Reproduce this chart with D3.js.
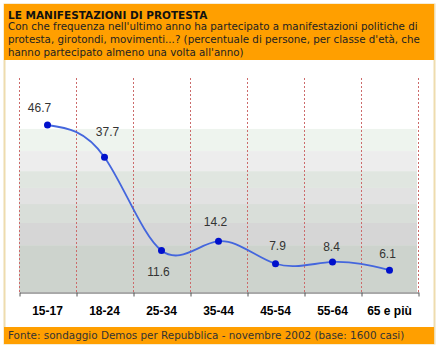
<!DOCTYPE html>
<html>
<head>
<meta charset="utf-8">
<script src="https://cdn.jsdelivr.net/npm/d3@7"></script>
<style>
  body { margin: 0; background: #fff; }
  svg { display: block; }
</style>
</head>
<body>
<svg width="442" height="354"></svg>
<script>
const svg = d3.select('svg');

const categories = ['15-17', '18-24', '25-34', '35-44', '45-54', '55-64', '65 e più'];
const values = [46.7, 37.7, 11.6, 14.2, 7.9, 8.4, 6.1];

// background stripes, in value units
const bandEdges = [45.6, 39.4, 33.8, 29.1, 24.6, 19.3, 13.1, 0];
const bandColors = ['#eef4ee', '#ededed', '#e0e6e0', '#e2e2e2', '#d9ded9', '#d6d6d6', '#cdd3cd'];

// label nudges (px) so they sit where the original has them
const labelDx = [-8, 3, -3, -3, 2, -1, -2];
const labelDy = [-13, -21, 25, -15, -14, -11, -12];

const title = 'LE MANIFESTAZIONI DI PROTESTA';
const subtitle = [
  "Con che frequenza nell'ultimo anno ha partecipato a manifestazioni politiche di",
  "protesta, girotondi, movimenti...? (percentuale di persone, per classe d'età, che",
  "hanno partecipato almeno una volta all'anno)",
];
const source = 'Fonte: sondaggio Demos per Repubblica - novembre 2002 (base: 1600 casi)';

const orange = '#ff9f00';
const plotLeft = 19, plotRight = 418, plotTop = 78, plotBottom = 292;

// frame
svg.append('rect')
  .attr('x', 4.5).attr('y', 4.5).attr('width', 430).attr('height', 339)
  .attr('fill', '#fff').attr('stroke', '#eedcae').attr('stroke-width', 2);
svg.append('rect')
  .attr('x', 4).attr('y', 4).attr('width', 430).attr('height', 56)
  .attr('fill', orange);
svg.append('rect')
  .attr('x', 4).attr('y', 327).attr('width', 430).attr('height', 17)
  .attr('fill', orange);

// header text
svg.append('text')
  .attr('x', 8).attr('y', 18.5)
  .style('font', 'bold 10.5px "DejaVu Sans", Verdana, sans-serif')
  .attr('fill', '#111')
  .text(title);
svg.append('g').selectAll('text')
  .data(subtitle)
  .enter()
  .append('text')
  .attr('x', 8)
  .attr('y', (d, i) => 30 + i * 13)
  .style('font', '10.3px "DejaVu Sans", Verdana, sans-serif')
  .attr('fill', '#222')
  .text(d => d);

svg.append('text')
  .attr('x', 8).attr('y', 339)
  .style('font', '10.4px "DejaVu Sans", Verdana, sans-serif')
  .attr('fill', '#333')
  .text(source);

// scales
const x = d3.scaleBand().domain(categories).range([plotLeft, plotRight]);
const xEdge = d3.scaleLinear().domain([0, categories.length]).range([plotLeft, plotRight]);
const y = d3.scaleLinear().domain([0, 50]).range([plotBottom, 113.2]);

// stripes
svg.append('g').selectAll('rect')
  .data(bandColors)
  .enter()
  .append('rect')
  .attr('x', plotLeft)
  .attr('width', plotRight - 1 - plotLeft)
  .attr('y', (d, i) => y(bandEdges[i]))
  .attr('height', (d, i) => y(bandEdges[i + 1]) - y(bandEdges[i]))
  .attr('fill', d => d);

// dashed separators
svg.append('g').selectAll('line')
  .data(d3.range(categories.length + 1))
  .enter()
  .append('line')
  .attr('x1', d => Math.round(xEdge(d)) + 0.5)
  .attr('x2', d => Math.round(xEdge(d)) + 0.5)
  .attr('y1', plotTop)
  .attr('y2', plotBottom)
  .attr('stroke', '#cc6b6b')
  .attr('stroke-width', 1)
  .attr('stroke-dasharray', '2,2');

// axis
const axis = svg.append('g')
  .attr('transform', `translate(0.5,${plotBottom + 0.5})`)
  .call(d3.axisBottom(xEdge).ticks(categories.length).tickSize(4).tickSizeOuter(0).tickFormat(''));
axis.select('.domain').attr('stroke', '#555');
axis.selectAll('.tick line').attr('stroke', '#555');

svg.append('g').selectAll('text')
  .data(categories)
  .enter()
  .append('text')
  .attr('x', d => x(d) + x.bandwidth() / 2)
  .attr('y', 315)
  .attr('text-anchor', 'middle')
  .style('font', 'bold 12px "Liberation Sans", Arial, sans-serif')
  .attr('fill', '#000')
  .text(d => d);

// line
const pts = values.map((v, i) => [x(categories[i]) + x.bandwidth() / 2, y(v)]);
svg.append('path')
  .attr('d', d3.line().curve(d3.curveNatural)(pts))
  .attr('fill', 'none')
  .attr('stroke', '#4466dd')
  .attr('stroke-width', 1.8);

svg.append('g').selectAll('circle')
  .data(pts)
  .enter()
  .append('circle')
  .attr('cx', d => d[0])
  .attr('cy', d => d[1])
  .attr('r', 3.5)
  .attr('fill', '#0010cc');

svg.append('g').selectAll('text')
  .data(values)
  .enter()
  .append('text')
  .attr('x', (d, i) => pts[i][0] + labelDx[i])
  .attr('y', (d, i) => pts[i][1] + labelDy[i])
  .attr('text-anchor', 'middle')
  .style('font', '12px "Liberation Sans", Arial, sans-serif')
  .attr('fill', '#333')
  .text(d => d3.format('.1f')(d));
</script>
</body>
</html>
